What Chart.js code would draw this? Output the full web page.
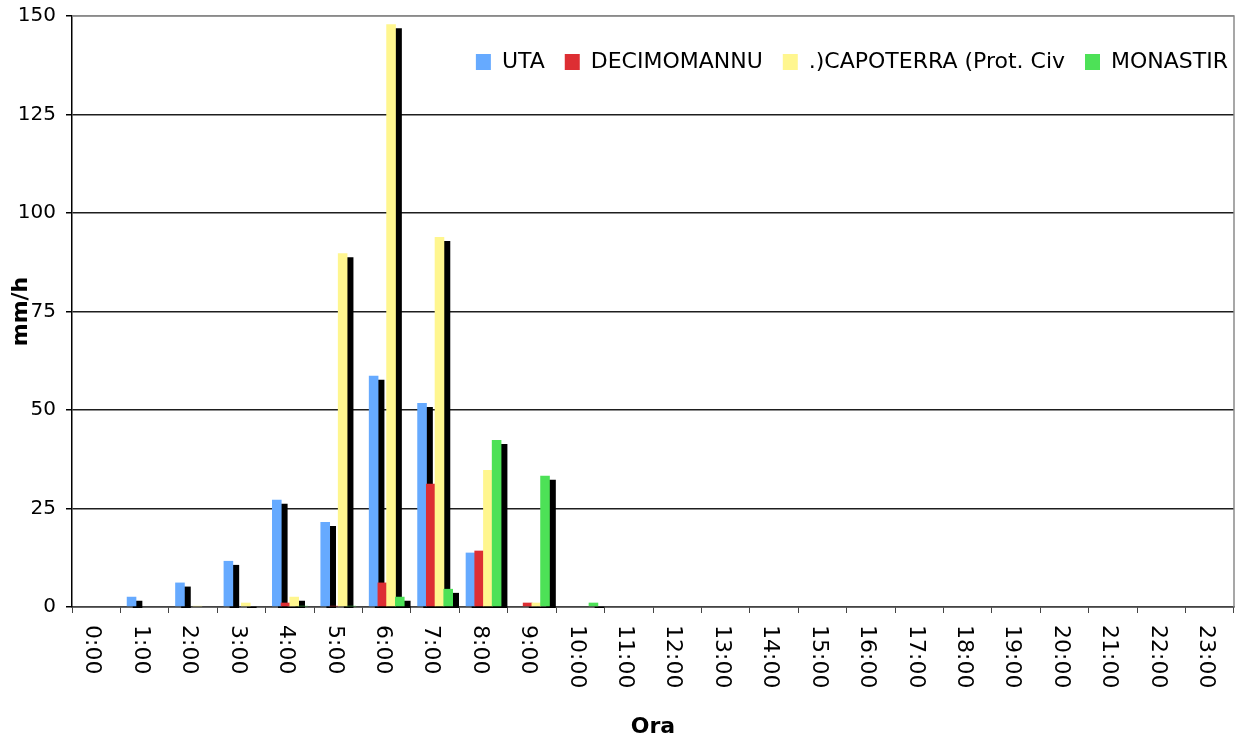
<!DOCTYPE html>
<html><head><meta charset="utf-8">
<script src="https://cdn.jsdelivr.net/npm/chart.js@4/dist/chart.umd.min.js"></script>
<style>html,body{margin:0;padding:0;background:#fff;}</style>
</head><body>
<canvas id="c" width="1243" height="742"></canvas>
<script>
// ---- data ----
const hours = ['0:00','1:00','2:00','3:00','4:00','5:00','6:00','7:00','8:00','9:00','10:00','11:00',
               '12:00','13:00','14:00','15:00','16:00','17:00','18:00','19:00','20:00','21:00','22:00','23:00'];
const seriesNames = ['UTA', 'DECIMOMANNU', '.)CAPOTERRA (Prot. Civ', 'MONASTIR'];
const uta         = [0, 2.6, 6.2, 11.7, 27.2, 21.6, 58.7, 51.8, 13.8, 0,   0,   0,0,0,0,0,0,0,0,0,0,0,0,0];
const decimomannu = [0, 0,   0,   0,    1.1,  0.3,  6.2,  31.3, 14.3, 1.1, 0,   0,0,0,0,0,0,0,0,0,0,0,0,0];
const capoterra   = [0, 0,   0.3, 1.1,  2.6,  89.8, 147.9,93.9, 34.8, 1.1, 0,   0,0,0,0,0,0,0,0,0,0,0,0,0];
const monastir    = [0, 0,   0,   0,    0.3,  0.3,  2.6,  4.6,  42.4, 33.3,1.1, 0,0,0,0,0,0,0,0,0,0,0,0,0];
const yTicks = [0, 25, 50, 75, 100, 125, 150];
const colors = ['#66aaff', '#dd2e33', '#fff68f', '#4de157'];

const FONT = 'DejaVu Sans';

// draw datasets in index order with an Excel-like black offset shadow
const shadowBars = {
  id: 'shadowBars',
  beforeDatasetsDraw(chart) {
    const ctx = chart.ctx, a = chart.chartArea;
    ctx.save();
    ctx.beginPath();
    ctx.rect(a.left, a.top - 2, a.right - a.left, a.bottom - a.top + 3);
    ctx.clip();
    chart.data.datasets.forEach((ds, i) => {
      const meta = chart.getDatasetMeta(i);
      ctx.save();
      ctx.shadowColor = '#000';
      ctx.shadowOffsetX = 6;
      ctx.shadowOffsetY = 4;
      ctx.shadowBlur = 0;
      meta.controller.draw();
      ctx.restore();
    });
    ctx.restore();
    return false;
  }
};

// legend laid out as a row inside the plot area
const legendInside = {
  id: 'legendInside',
  beforeLayout(chart) {
    if (chart.legend) chart.legend.isHorizontal = () => true;
  },
  beforeDraw(chart) {
    const lg = chart.legend;
    if (!lg) return;
    const a = chart.chartArea;
    lg.top = 31;
    lg.bottom = lg.top + lg.height;
    lg.left = a.left;
    lg.right = a.right + 14;
  }
};

// plot frame (top / right) and rotated category labels
const frameAndLabels = {
  id: 'frameAndLabels',
  afterDraw(chart) {
    const ctx = chart.ctx, a = chart.chartArea;
    ctx.save();
    ctx.strokeStyle = '#8a8a8a';
    ctx.lineWidth = 1.5;
    ctx.beginPath();
    ctx.moveTo(a.left, a.top);
    ctx.lineTo(a.right, a.top);
    ctx.lineTo(a.right, a.bottom);
    ctx.stroke();
    ctx.restore();

    const xs = chart.scales.x;
    ctx.save();
    ctx.fillStyle = '#000';
    ctx.font = '22px "' + FONT + '"';
    ctx.textAlign = 'left';
    ctx.textBaseline = 'middle';
    hours.forEach((h, i) => {
      const x = xs.getPixelForValue(i) - 4;
      ctx.save();
      ctx.translate(x, 625);
      ctx.rotate(Math.PI / 2);
      ctx.fillText(h, 0, 0);
      ctx.restore();
    });
    ctx.restore();
  }
};

const seriesData = [uta, decimomannu, capoterra, monastir];

new Chart(document.getElementById('c'), {
  type: 'bar',
  data: {
    labels: hours,
    datasets: seriesData.map((d, i) => ({
      label: seriesNames[i],
      data: d,
      backgroundColor: colors[i],
      borderWidth: 0,
      inflateAmount: 0,
      categoryPercentage: 0.72,
      barPercentage: 1.1
    }))
  },
  options: {
    responsive: false,
    animation: false,
    devicePixelRatio: 1,
    layout: { padding: { top: 16, right: 9, left: 0, bottom: 0 } },
    plugins: {
      legend: {
        position: 'chartArea',
        align: 'end',
        labels: {
          boxWidth: 15,
          boxHeight: 16,
          padding: 20,
          color: '#000',
          font: { family: FONT, size: 22 }
        }
      },
      tooltip: { enabled: false },
      title: { display: false }
    },
    scales: {
      x: {
        grid: { display: true, drawOnChartArea: false, drawTicks: true, tickLength: 6, color: '#444', offset: true },
        border: { display: true, color: '#444', width: 1.5 },
        ticks: { display: false },
        title: {
          display: true, text: 'Ora', color: '#000',
          font: { family: FONT, size: 22, weight: 'bold' },
          padding: { top: 0, bottom: 2 }
        },
        afterFit(s) { s.height = 135; s.paddingLeft = 0; s.paddingRight = 0; }
      },
      y: {
        min: 0, max: 150,
        afterBuildTicks(s) { s.ticks = yTicks.map(v => ({ value: v })); },
        grid: {
          color: (c) => (c.tick && c.tick.value === 150) ? '#8a8a8a' : '#1e1e1e',
          lineWidth: 1.5,
          tickLength: 6,
          tickColor: '#000',
          drawTicks: true
        },
        border: { display: true, color: '#000', width: 1.5 },
        ticks: { color: '#000', padding: 10, font: { family: FONT, size: 20 } },
        title: {
          display: true, text: 'mm/h', color: '#000',
          font: { family: FONT, size: 22, weight: 'bold' },
          padding: { top: 8, bottom: 0 }
        },
        afterFit(s) { s.width = 72; s.paddingTop = 0; s.paddingBottom = 0; }
      }
    }
  },
  plugins: [legendInside, shadowBars, frameAndLabels]
});
</script>
</body></html>
